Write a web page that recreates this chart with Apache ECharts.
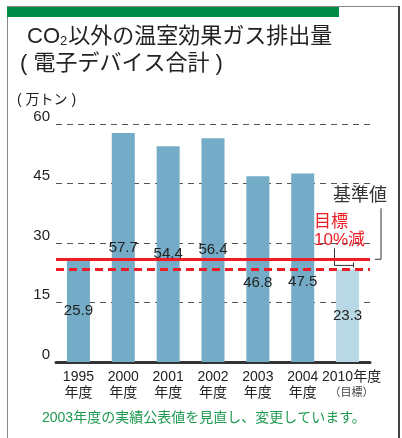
<!DOCTYPE html>
<html lang="ja" style="height: 100%">
<head>
  <meta charset="utf-8">
  <title>CO2以外の温室効果ガス排出量</title>
</head>
<body style="height: 100%; margin: 0; background: #ffffff;">
  <div id="container" style="width: 402px; height: 438px;"></div>

  <script src="https://cdn.jsdelivr.net/npm/echarts@6/dist/echarts.min.js"></script>
  <script type="text/javascript">
    // データ（万トン）
    const categories = ['1995', '2000', '2001', '2002', '2003', '2004', '2010'];
    const emissions = [25.9, 57.7, 54.4, 56.4, 46.8, 47.5, 23.3];
    const yTicks = [0, 15, 30, 45, 60];
    const baseline = 25.9;   // 基準値
    const target = 23.3;     // 目標 10%減
    const targetIndex = 6;   // 2010年度（目標）

    const FONT = '"Liberation Sans", "Noto Sans CJK JP", sans-serif';
    const BAR = '#74abc6';
    const BAR_LIGHT = '#b9d8e5';
    const RED = '#ee1d25';

    const dom = document.getElementById('container');
    const chart = echarts.init(dom, null, { renderer: 'canvas' });

    const barData = emissions.map((v, i) => {
      const item = {
        value: v,
        itemStyle: { color: i === targetIndex ? BAR_LIGHT : BAR }
      };
      // 2003・2004年度の数値は赤線を避けて少し下に
      if (categories[i] === '2003' || categories[i] === '2004') {
        item.label = { offset: [0, 14] };
      }
      return item;
    });

    const option = {
      animation: false,
      textStyle: { fontFamily: FONT },
      title: [
        {
          left: 22, top: 19,
          text: '{c|CO}{s|2}{c|以外の温室効果ガス排出量}',
          textStyle: {
            fontWeight: 'normal',
            rich: {
              c: { fontSize: 22, lineHeight: 26, color: '#222', fontWeight: 'normal', fontFamily: FONT },
              s: { fontSize: 13, lineHeight: 13, color: '#222', fontWeight: 'normal', fontFamily: FONT,
                   verticalAlign: 'bottom', padding: [0, 1, 2, 0] }
            }
          }
        },
        {
          left: 15, top: 46,
          text: '( 電子デバイス合計 )',
          textStyle: { fontSize: 22, lineHeight: 26, fontWeight: 'normal', color: '#222', fontFamily: FONT }
        }
      ],
      grid: {
        left: 56, right: 32, top: 124, bottom: 76,
        containLabel: false, outerBoundsMode: 'none'
      },
      xAxis: {
        type: 'category',
        data: categories,
        axisLine: { lineStyle: { color: '#333', width: 3 } },
        axisTick: { show: false },
        axisLabel: {
          margin: 7,
          fontSize: 14,
          lineHeight: 16,
          color: '#222',
          interval: 0,
          formatter: (v, i) => i === targetIndex
            ? '{t|' + v + '年度}\n{s|（目標）}'
            : v + '\n年度',
          rich: {
            t: { fontSize: 14, lineHeight: 16, color: '#222', padding: [0, 0, 0, 8] },
            s: { fontSize: 11, lineHeight: 16, color: '#444', padding: [0, 0, 0, 8] }
          }
        }
      },
      yAxis: {
        type: 'value',
        min: yTicks[0],
        max: yTicks[yTicks.length - 1],
        interval: yTicks[1] - yTicks[0],
        axisLine: { show: false },
        axisTick: { show: false },
        axisLabel: {
          margin: 6, fontSize: 15, color: '#222', verticalAlign: 'bottom'
        },
        splitLine: { lineStyle: { color: '#555', width: 1, type: [6, 5] } }
      },
      series: [{
        type: 'bar',
        data: barData,
        barWidth: 23,
        label: {
          show: true,
          position: 'inside',
          fontSize: 15,
          color: '#222',
          formatter: p => p.value.toFixed(1)
        },
        markLine: {
          silent: true,
          symbol: ['none', 'none'],
          label: { show: false },
          lineStyle: { color: RED, width: 3 },
          data: [
            { yAxis: baseline, lineStyle: { type: 'solid' } },
            { yAxis: target, lineStyle: { type: [8, 5] } }
          ]
        }
      }]
    };

    chart.setOption(option);

    // 注記（基準値・目標）は線の位置から配置
    const W = chart.getWidth();
    const H = chart.getHeight();
    const xEnd = W - 32;
    const yBase = chart.convertToPixel({ yAxisIndex: 0 }, baseline);
    const yTarget = chart.convertToPixel({ yAxisIndex: 0 }, target);
    const yMid = (yBase + yTarget) / 2 + 1;
    const lineStyle = { stroke: '#333', lineWidth: 1 };

    chart.setOption({
      graphic: [
        // 枠
        { type: 'line', shape: { x1: 7.5, y1: 6, x2: 7.5, y2: H }, style: { stroke: '#888', lineWidth: 1 } },
        { type: 'line', shape: { x1: 7, y1: 6.5, x2: 400, y2: 6.5 }, style: { stroke: '#888', lineWidth: 1 } },
        { type: 'line', shape: { x1: 399, y1: 6, x2: 399, y2: H }, style: { stroke: '#444', lineWidth: 2 } },
        { type: 'rect', shape: { x: 7, y: 7, width: 332, height: 10 }, style: { fill: '#008a47' } },
        // 単位
        { type: 'text', left: 17, top: 93, style: { text: '( 万トン )', font: '14px ' + FONT, fill: '#222' } },
        // 基準値
        { type: 'text', left: 333, top: yBase - 72, style: { text: '基準値', font: '18px ' + FONT, fill: '#333' } },
        { type: 'polyline', shape: { points: [[xEnd + 11, yBase - 51], [xEnd + 11, yBase], [xEnd + 5, yBase]] }, style: lineStyle },
        // 目標
        { type: 'text', left: 314, top: yBase - 46,
          style: { text: '目標\n10%減', font: '17px ' + FONT, fill: RED, lineHeight: 18 } },
        { type: 'polyline', shape: { points: [[334.5, yBase - 11], [334.5, yMid], [353.5, yMid]] }, style: lineStyle },
        { type: 'line', shape: { x1: 353.5, y1: yMid - 3, x2: 353.5, y2: yTarget - 2 }, style: lineStyle },
        // 注記
        { type: 'text', left: 42, top: 411,
          style: { text: '2003年度の実績公表値を見直し、変更しています。', font: '14px ' + FONT, fill: '#1e9a50' } }
      ]
    });

    window.addEventListener('resize', chart.resize);
  </script>
</body>
</html>
